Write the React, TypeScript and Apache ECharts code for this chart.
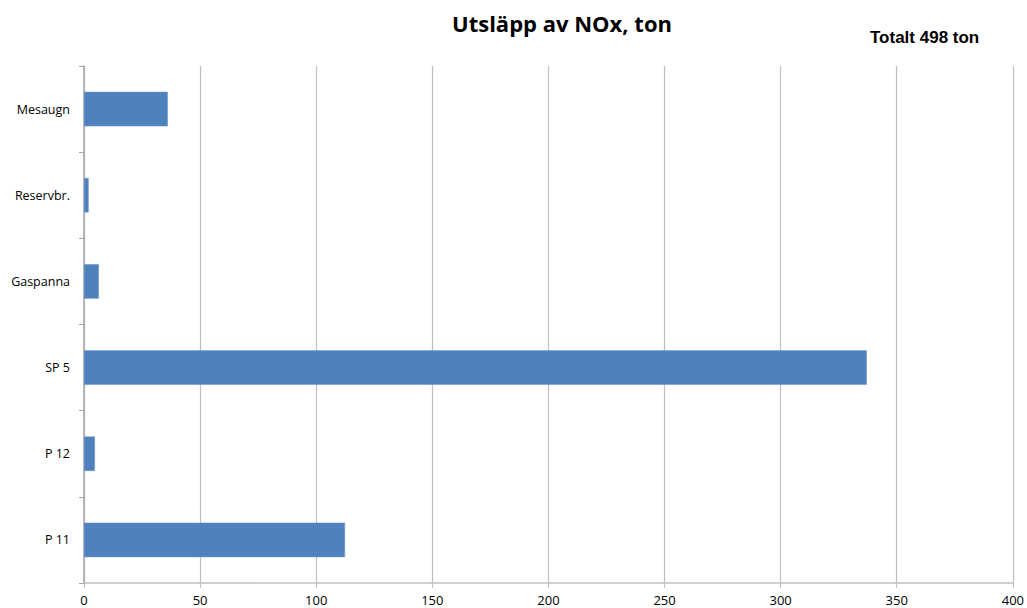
import React, { useEffect, useRef } from "react";
import * as echarts from "echarts";

// Emission sources, listed bottom-to-top as on the category axis
const categories = ["P 11", "P 12", "SP 5", "Gaspanna", "Reservbr.", "Mesaugn"];
const noxTon = [112.4, 4.7, 337.1, 6.4, 2.0, 36.1];
const xTicks = { min: 0, max: 400, interval: 50 };

const chartTitle = "Utsläpp av NOx, ton";
const totalLabel = "Totalt 498 ton";

export default function App() {
  const ref = useRef<HTMLDivElement>(null);

  useEffect(() => {
    document.body.style.margin = "0";
    if (!ref.current) return;
    const chart = echarts.init(ref.current, undefined, { renderer: "svg" });
    chart.setOption({
      animation: false,
      backgroundColor: "#ffffff",
      title: {
        text: chartTitle,
        left: 557,
        top: 7,
        textAlign: "center",
        textStyle: {
          fontFamily: "Open Sans",
          fontWeight: "bold",
          fontSize: 22,
          color: "#000000",
        },
      },
      graphic: [
        {
          type: "text",
          left: 870,
          top: 29,
          style: {
            text: totalLabel,
            fontFamily: "Liberation Sans Narrow, Liberation Sans",
            fontWeight: "bold",
            fontSize: 17,
            fill: "#000000",
          },
        },
      ],
      grid: { left: 84, right: 13, top: 66, bottom: 25, containLabel: false },
      xAxis: {
        type: "value",
        min: xTicks.min,
        max: xTicks.max,
        interval: xTicks.interval,
        axisLine: { show: true, lineStyle: { color: "#bfbfbf", width: 1.5 } },
        axisTick: { show: true, length: 5, lineStyle: { color: "#bfbfbf" } },
        splitLine: { show: true, lineStyle: { color: "#bfbfbf", width: 1.2 } },
        axisLabel: {
          fontFamily: "Open Sans",
          fontSize: 13,
          lineHeight: 13,
          color: "#000000",
          margin: 10,
        },
      },
      yAxis: {
        type: "category",
        data: categories,
        axisLine: { show: true, lineStyle: { color: "#a6a6a6", width: 1.5 } },
        axisTick: { show: true, length: 5, lineStyle: { color: "#a6a6a6" } },
        axisLabel: {
          fontFamily: "Open Sans",
          fontSize: 12.5,
          color: "#000000",
          margin: 14,
        },
      },
      series: [
        {
          type: "bar",
          data: noxTon,
          barCategoryGap: "60%",
          itemStyle: { color: "#4f81bd", borderColor: "#6a94c8", borderWidth: 0.5 },
        },
      ],
    });
    return () => chart.dispose();
  }, []);

  return <div ref={ref} style={{ width: 1027, height: 608 }} />;
}
